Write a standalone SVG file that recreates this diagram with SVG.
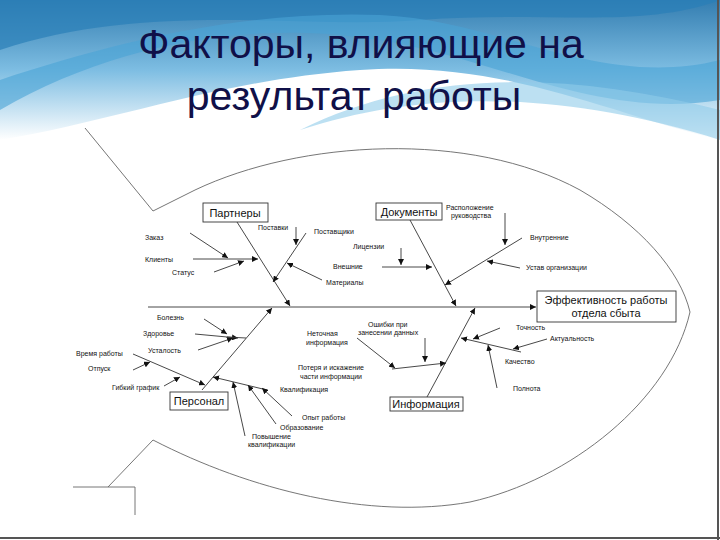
<svg xmlns="http://www.w3.org/2000/svg" width="720" height="540" viewBox="0 0 720 540">
<defs>
<linearGradient id="sky" x1="0" y1="0" x2="0" y2="1">
<stop offset="0" stop-color="#1d6fa8"/><stop offset="0.5" stop-color="#6fb6df"/><stop offset="1" stop-color="#ffffff"/>
</linearGradient>
<marker id="ar" viewBox="0 0 10 10" refX="10" refY="5" markerWidth="6" markerHeight="6" markerUnits="userSpaceOnUse" orient="auto">
<path d="M0,0 L10,5 L0,10 z" fill="#111"/>
</marker>
<style>
.c line,.c polyline{stroke:#333;stroke-width:0.9;fill:none}
.a{marker-end:url(#ar)}
.s{font-family:"Liberation Sans",Arial,sans-serif;font-size:7px;fill:#111}
.b rect{fill:#fff;stroke:#333;stroke-width:0.9}
.b text{font-family:"Liberation Sans",Arial,sans-serif;font-size:11px;fill:#111;text-anchor:middle}
.fish{fill:none;stroke:#666;stroke-width:0.9}
</style>
</defs>
<rect width="720" height="540" fill="#fff"/>
<g id="banner">
<path d="M0,0 H720 V140 C600,110 500,60 360,70 C220,80 120,120 0,140 Z" fill="url(#sky)" opacity="0.9"/>
<path d="M0,50 C150,0 300,30 420,20 C540,10 640,30 720,0 V0 H0 Z" fill="#2a7fb8" opacity="0.7"/>
<path d="M0,110 C120,40 260,20 380,40 C500,60 600,120 720,100 V60 C600,90 500,20 380,15 C250,10 120,40 0,80 Z" fill="#4aa3d6" opacity="0.6"/>
<path d="M300,130 C420,90 560,90 720,140 V110 C560,70 420,70 300,130 Z" fill="#8fcbe9" opacity="0.6"/>
</g>
<g id="title" font-family="'Liberation Sans',Arial,sans-serif" font-size="41" fill="#101048" text-anchor="middle">
<text x="361" y="58">Факторы, влияющие на</text>
<text x="354" y="110">результат работы</text>
</g>
<g id="fish">
<path class="fish" d="M85,128 L153,211 L195,190 C300,140 470,130 580,190 C640,225 680,270 690,312 C670,400 570,480 470,502 C370,520 250,490 153,440 L108,487 M73,487 H135 V515"/>
</g>
<line x1="718" y1="0" x2="718" y2="540" stroke="#555" stroke-width="2"/>
<line x1="0" y1="538" x2="720" y2="538" stroke="#555" stroke-width="2"/>
<g id="connectors" class="c">
<line class="a" x1="148" y1="307" x2="536" y2="307"/>
<line class="a" x1="237" y1="222" x2="290" y2="306"/>
<line class="a" x1="410" y1="220" x2="456" y2="306"/>
<line class="a" x1="202" y1="390" x2="272" y2="308"/>
<line class="a" x1="427" y1="397" x2="475" y2="308"/>
<line class="a" x1="190" y1="233" x2="228" y2="258"/>
<line class="a" x1="193" y1="259" x2="258" y2="259"/>
<line class="a" x1="214" y1="272" x2="244" y2="261"/>
<line class="a" x1="296" y1="227" x2="296" y2="245"/>
<line class="a" x1="306" y1="233" x2="273" y2="282"/>
<line class="a" x1="322" y1="280" x2="287" y2="263"/>
<line class="a" x1="401" y1="248" x2="401" y2="265"/>
<line class="a" x1="382" y1="267" x2="432" y2="267"/>
<line class="a" x1="505" y1="213" x2="505" y2="245"/>
<line class="a" x1="522" y1="238" x2="445" y2="285"/>
<line class="a" x1="520" y1="268" x2="487" y2="261"/>
<line class="a" x1="204" y1="319" x2="227" y2="334"/>
<line class="a" x1="195" y1="334" x2="238" y2="338"/>
<line class="a" x1="198" y1="350" x2="233" y2="338"/>
<line x1="227" y1="337" x2="246" y2="338"/>
<line class="a" x1="133" y1="354" x2="205" y2="385"/>
<line class="a" x1="133" y1="370" x2="150" y2="362"/>
<line class="a" x1="164" y1="386" x2="180" y2="377"/>
<line class="a" x1="267" y1="390" x2="213" y2="377"/>
<line class="a" x1="245" y1="436" x2="233" y2="382"/>
<line class="a" x1="276" y1="424" x2="248" y2="385"/>
<line class="a" x1="292" y1="416" x2="262" y2="388"/>
<line class="a" x1="425" y1="338" x2="425" y2="362"/>
<line class="a" x1="357" y1="338" x2="395" y2="368"/>
<line class="a" x1="392" y1="369" x2="446" y2="363"/>
<line class="a" x1="500" y1="328" x2="473" y2="339"/>
<line class="a" x1="521" y1="352" x2="461" y2="338"/>
<line class="a" x1="547" y1="339" x2="513" y2="349"/>
<line class="a" x1="497" y1="388" x2="488" y2="345"/>
</g>
<g id="effect" class="b"><rect x="537" y="291" width="139" height="31"/>
<text x="606" y="304">Эффективность работы</text><text x="606" y="317">отдела сбыта</text></g>
<g id="partners" class="b"><rect x="203" y="203" width="65" height="19"/><text x="235" y="217">Партнеры</text></g>
<g id="documents" class="b"><rect x="376" y="203" width="66" height="17"/><text x="409" y="216">Документы</text></g>
<g id="personnel" class="b"><rect x="170" y="392" width="58" height="18"/><text x="199" y="405">Персонал</text></g>
<g id="information" class="b"><rect x="390" y="397" width="73" height="14"/><text x="426" y="408">Информация</text></g>
<g id="labels" class="s">
<text x="258" y="230">Поставки</text>
<text x="145" y="240">Заказ</text>
<text x="145" y="262">Клиенты</text>
<text x="172" y="275">Статус</text>
<text x="314" y="234">Поставщики</text>
<text x="353" y="249">Лицензии</text>
<text x="333" y="269">Внешние</text>
<text x="326" y="285">Материалы</text>
<text x="446" y="210">Расположение</text>
<text x="451" y="218">руководства</text>
<text x="530" y="240">Внутренние</text>
<text x="526" y="270">Устав организации</text>
<text x="157" y="320">Болезнь</text>
<text x="143" y="336">Здоровье</text>
<text x="148" y="353">Усталость</text>
<text x="76" y="356">Время работы</text>
<text x="88" y="371">Отпуск</text>
<text x="112" y="390">Гибкий график</text>
<text x="280" y="392">Квалификация</text>
<text x="302" y="420">Опыт работы</text>
<text x="280" y="430">Образование</text>
<text x="252" y="439">Повышение</text>
<text x="248" y="447">квалификации</text>
<text x="368" y="327">Ошибки при</text>
<text x="358" y="335">занесении данных</text>
<text x="307" y="336">Неточная</text>
<text x="306" y="345">информация</text>
<text x="298" y="370">Потеря и искажение</text>
<text x="300" y="379">части информации</text>
<text x="516" y="330">Точность</text>
<text x="550" y="341">Актуальность</text>
<text x="505" y="364">Качество</text>
<text x="513" y="391">Полнота</text>
</g>
</svg>
